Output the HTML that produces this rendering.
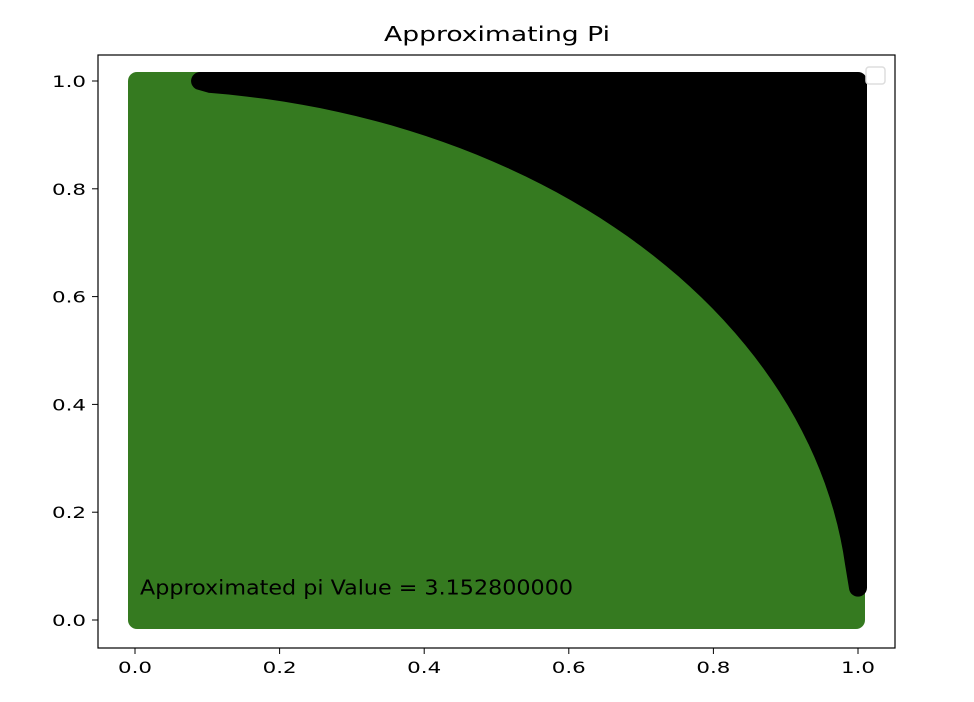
<!DOCTYPE html>
<html><head><meta charset="utf-8">
<style>
html,body{margin:0;padding:0;background:#fff;}
svg{display:block;font-family:"DejaVu Sans","Liberation Sans",sans-serif;}
</style></head>
<body>
<svg id="chart" width="974" height="702" viewBox="0 0 974 702">
<text x="497" y="41" text-anchor="middle" font-size="20" textLength="226" lengthAdjust="spacingAndGlyphs" fill="#000">Approximating Pi</text>
<g id="marks"></g>
<rect x="98" y="55" width="797" height="593" fill="none" stroke="#000" stroke-width="1.2"/>
<rect x="866" y="67" width="19" height="17" rx="3" fill="#fff" stroke="#ddd" stroke-width="1.5"/>
<g id="axes"></g>
</svg>
<script>
const xTicks=[0.0,0.2,0.4,0.6,0.8,1.0];
const yTicks=[0.0,0.2,0.4,0.6,0.8,1.0];
const tickLabels=["0.0","0.2","0.4","0.6","0.8","1.0"];
const radius=[1.0];
const piValue=[3.1528];
const NS="http://www.w3.org/2000/svg";
const sx=v=>135+v*723;
const sy=v=>620-v*539;
const marks=document.getElementById('marks');
const axes=document.getElementById('axes');
function arcPts(r){const p=[];for(let i=0;i<=60;i++){let t=i/60*Math.PI/2;p.push(sx(r*Math.cos(t))+','+sy(r*Math.sin(t)));}return p;}
const r=radius[0];
const gr=document.createElementNS(NS,'rect');


gr.setAttribute('x',sx(0)-7);gr.setAttribute('y',sy(1)-9);gr.setAttribute('width',sx(1)-sx(0)+14);gr.setAttribute('height',sy(0)-sy(1)+18);gr.setAttribute('rx',9);
gr.setAttribute('fill','#357a20');
marks.appendChild(gr);
const bk=document.createElementNS(NS,'path');


bk.setAttribute('d','M'+sx(0.09)+','+sy(1)+' L'+sx(1)+','+sy(1)+' L'+sx(1)+','+sy(0.06)+' L'+arcPts(r).filter((_,i)=>i>3&&i<57).join(' L')+' Z');
bk.setAttribute('fill','#000');bk.setAttribute('stroke','#000');bk.setAttribute('stroke-width','18');bk.setAttribute('stroke-linejoin','round');
marks.appendChild(bk);
const tx=document.createElementNS(NS,'text');


tx.setAttribute('x',140);tx.setAttribute('y',sy(0.06)+7);tx.setAttribute('font-size','20');
tx.setAttribute('textLength','433');tx.setAttribute('lengthAdjust','spacingAndGlyphs');
tx.textContent='Approximated pi Value = '+piValue[0].toFixed(9);
marks.appendChild(tx);
xTicks.forEach((v,i)=>{
 const l=document.createElementNS(NS,'line');
 
 
 l.setAttribute('x1',sx(v));l.setAttribute('x2',sx(v));l.setAttribute('y1',648);l.setAttribute('y2',654);l.setAttribute('stroke','#000');
 axes.appendChild(l);
 const t=document.createElementNS(NS,'text');
 
 
 t.setAttribute('x',sx(v));t.setAttribute('y',673);t.setAttribute('text-anchor','middle');t.setAttribute('font-size','16');
 t.setAttribute('textLength','34');t.setAttribute('lengthAdjust','spacingAndGlyphs');
 t.textContent=tickLabels[i];axes.appendChild(t);
});
yTicks.forEach((v,i)=>{
 const l=document.createElementNS(NS,'line');
 
 
 l.setAttribute('x1',92);l.setAttribute('x2',98);l.setAttribute('y1',sy(v));l.setAttribute('y2',sy(v));l.setAttribute('stroke','#000');
 axes.appendChild(l);
 const t=document.createElementNS(NS,'text');
 
 
 t.setAttribute('x',86);t.setAttribute('y',sy(v)+6);t.setAttribute('text-anchor','end');t.setAttribute('font-size','16');
 t.setAttribute('textLength','34');t.setAttribute('lengthAdjust','spacingAndGlyphs');
 t.textContent=tickLabels[i];axes.appendChild(t);
});
</script>
</body></html>
